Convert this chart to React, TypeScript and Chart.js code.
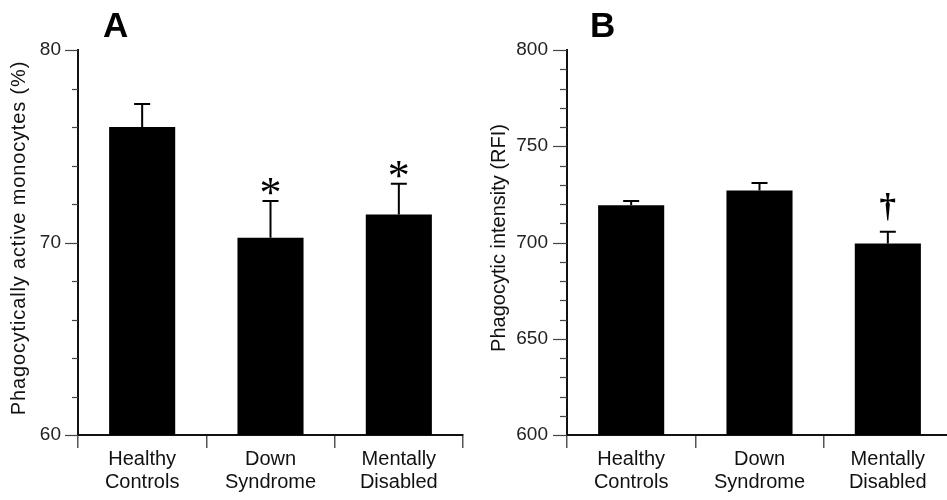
import React, { useEffect, useRef } from 'react';
import { Chart, registerables } from 'chart.js';

Chart.register(...registerables);

const categories: string[][] = [
  ['Healthy', 'Controls'],
  ['Down', 'Syndrome'],
  ['Mentally', 'Disabled'],
];

const monocytesPct = [76.0, 70.25, 71.45];
const monocytesErr = [1.2, 1.9, 1.6];
const monocytesMarks = ['', '*', '*'];
const monocytesTicks = [60, 70, 80];

const intensityRFI = [719.3, 727.0, 699.5];
const intensityErr = [2.3, 3.9, 6.1];
const intensityMarks = ['', '', '†'];
const intensityTicks = [600, 650, 700, 750, 800];

const SANS = '"Liberation Sans", Arial, sans-serif';
const SERIF = '"Liberation Serif", "Times New Roman", serif';

type PanelCfg = {
  letter: string;
  letterX: number;
  yTitle: string;
  yTitleX: number;
  yTitleY: number;
  yTitleSpacing: string;
  values: number[];
  errors: number[];
  marks: string[];
  majorTicks: number[];
  min: number;
  max: number;
  step: number;
  axisWidth: number;
  padRight: number;
  majorLen: number;
  minorLen: number;
  labelPad: number;
  width: number;
};

function makeOverlay(cfg: PanelCfg) {
  return {
    id: 'overlay' + cfg.letter,
    afterDatasetsDraw(chart: any) {
      const ctx = chart.ctx as CanvasRenderingContext2D;
      const xs = chart.scales.x;
      const ys = chart.scales.y;
      ctx.save();
      ctx.strokeStyle = '#000';
      ctx.lineWidth = 2;
      cfg.values.forEach((v, i) => {
        const x = xs.getPixelForValue(i);
        const yTop = ys.getPixelForValue(v);
        const yErr = ys.getPixelForValue(v + cfg.errors[i]);
        ctx.beginPath();
        ctx.moveTo(x, yTop);
        ctx.lineTo(x, yErr);
        ctx.moveTo(x - 8, yErr);
        ctx.lineTo(x + 8, yErr);
        ctx.stroke();
        const m = cfg.marks[i];
        if (m) {
          const isDagger = m === '†';
          ctx.font = isDagger ? `bold 33px ${SERIF}` : `44px ${SERIF}`;
          ctx.fillStyle = '#000';
          ctx.textAlign = 'center';
          ctx.textBaseline = 'alphabetic';
          const tm = ctx.measureText(m);
          const gap = isDagger ? 11 : 6;
          const bottom = yErr - gap;
          ctx.fillText(m, x, bottom - tm.actualBoundingBoxDescent);
        }
      });
      ctx.restore();
    },
    afterDraw(chart: any) {
      const ctx = chart.ctx as CanvasRenderingContext2D;
      const ys = chart.scales.y;
      const axisX = ys.right;
      ctx.save();
      ctx.strokeStyle = '#444';
      ctx.lineWidth = 1.2;
      for (let v = cfg.min; v <= cfg.max + 1e-9; v += cfg.step) {
        const y = Math.round(ys.getPixelForValue(v)) + 0.5;
        const major = cfg.majorTicks.some((t) => Math.abs(t - v) < 1e-6);
        const len = major ? cfg.majorLen : cfg.minorLen;
        ctx.beginPath();
        ctx.moveTo(axisX - len, y);
        ctx.lineTo(axisX, y);
        ctx.stroke();
      }
      ctx.fillStyle = '#000';
      ctx.font = `bold 35px ${SANS}`;
      ctx.textAlign = 'left';
      ctx.textBaseline = 'alphabetic';
      ctx.fillText(cfg.letter, cfg.letterX, 37);
      ctx.translate(cfg.yTitleX, cfg.yTitleY);
      ctx.rotate(-Math.PI / 2);
      ctx.font = `20px ${SANS}`;
      (ctx as any).letterSpacing = cfg.yTitleSpacing;
      ctx.fillStyle = '#111';
      ctx.textAlign = 'center';
      ctx.textBaseline = 'middle';
      ctx.fillText(cfg.yTitle, 0, 0);
      ctx.restore();
    },
  };
}

function Panel({ cfg, left }: { cfg: PanelCfg; left: number }) {
  const ref = useRef<HTMLCanvasElement | null>(null);
  useEffect(() => {
    if (!ref.current) return;
    const chart = new Chart(ref.current, {
      type: 'bar',
      data: {
        labels: categories,
        datasets: [
          {
            data: cfg.values,
            backgroundColor: '#000',
            borderWidth: 0,
            barPercentage: 0.515,
            categoryPercentage: 1,
          },
        ],
      },
      options: {
        animation: false,
        responsive: false,
        devicePixelRatio: 1,
        layout: { padding: { left: 0, right: cfg.padRight, top: 50, bottom: 0 } },
        plugins: {
          legend: { display: false },
          tooltip: { enabled: false },
          title: { display: false },
        },
        scales: {
          x: {
            offset: true,
            grid: {
              display: true,
              drawOnChartArea: false,
              drawTicks: true,
              tickLength: 13,
              color: '#555',
              lineWidth: 1.5,
              offset: true,
            },
            border: { display: true, color: '#111', width: 2 },
            ticks: {
              color: '#111',
              font: { family: SANS, size: 20, lineHeight: 1.15 },
              padding: 0,
              maxRotation: 0,
              autoSkip: false,
            },
            afterFit: (s: any) => {
              s.height = 65;
            },
          },
          y: {
            min: cfg.min,
            max: cfg.max,
            grid: { display: true, drawOnChartArea: false, drawTicks: false },
            border: { display: true, color: '#111', width: 2 },
            ticks: {
              stepSize: cfg.step,
              autoSkip: false,
              color: '#222',
              font: { family: SANS, size: 19 },
              padding: cfg.labelPad,
              callback: (v: any) =>
                cfg.majorTicks.some((t) => Math.abs(t - Number(v)) < 1e-6) ? String(v) : '',
            },
            afterFit: (s: any) => {
              s.width = cfg.axisWidth;
            },
          },
        },
      },
      plugins: [makeOverlay(cfg)],
    } as any);
    return () => chart.destroy();
  }, [cfg]);
  return (
    <canvas
      ref={ref}
      width={cfg.width}
      height={500}
      style={{ position: 'absolute', left, top: 0, width: cfg.width, height: 500 }}
    />
  );
}

const panelA: PanelCfg = {
  letter: 'A',
  letterX: 103,
  yTitle: 'Phagocytically active monocytes (%)',
  yTitleX: 19,
  yTitleY: 238,
  yTitleSpacing: '0.85px',
  values: monocytesPct,
  errors: monocytesErr,
  marks: monocytesMarks,
  majorTicks: monocytesTicks,
  min: 60,
  max: 80,
  step: 2,
  axisWidth: 78,
  padRight: 7,
  majorLen: 13,
  minorLen: 6,
  labelPad: 17,
  width: 470,
};

const panelB: PanelCfg = {
  letter: 'B',
  letterX: 120,
  yTitle: 'Phagocytic intensity (RFI)',
  yTitleX: 29,
  yTitleY: 238,
  yTitleSpacing: '0px',
  values: intensityRFI,
  errors: intensityErr,
  marks: intensityMarks,
  majorTicks: intensityTicks,
  min: 600,
  max: 800,
  step: 10,
  axisWidth: 97,
  padRight: 4,
  majorLen: 14,
  minorLen: 7,
  labelPad: 19,
  width: 486,
};

export default function App() {
  return (
    <div
      style={{
        position: 'fixed',
        left: 0,
        top: 0,
        width: 947,
        height: 500,
        overflow: 'hidden',
        background: '#fff',
      }}
    >
      <Panel cfg={panelA} left={0} />
      <Panel cfg={panelB} left={470} />
    </div>
  );
}
